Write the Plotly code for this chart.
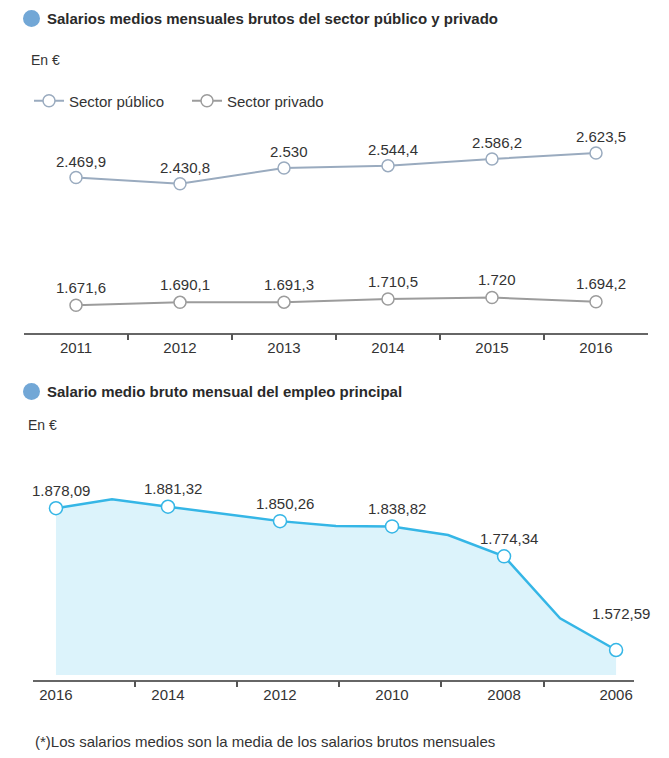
import plotly.graph_objects as go

# datos: salarios publico / privado
anios = [2011, 2012, 2013, 2014, 2015, 2016]
sector_publico = [2469.9, 2430.8, 2530, 2544.4, 2586.2, 2623.5]
sector_privado = [1671.6, 1690.1, 1691.3, 1710.5, 1720, 1694.2]

anios_empleo = [2016, 2015, 2014, 2013, 2012, 2011, 2010, 2009, 2008, 2007, 2006]
salario_empleo = [1878.09, 1897.3, 1881.32, 1865.6, 1850.26, 1840.0,
                  1838.82, 1820.3, 1774.34, 1640.9, 1572.59]
anios_marcados = [2016, 2014, 2012, 2010, 2008, 2006]
base_relleno = 1519

FONT = "Liberation Sans, Arial, sans-serif"
TXT = "#333333"
W, H = 669, 758


def fmt(v, dec):
    s = f"{v:,.{dec}f}".replace(",", "X").replace(".", ",").replace("X", ".")
    if s.endswith("," + "0" * dec):
        s = s[: -(dec + 1)]
    return s


def py(px):
    return 1 - px / H


def pxx(px):
    return px / W


fig = go.Figure()

# grafico 1
fig.add_trace(go.Scatter(
    x=anios, y=sector_publico, name="Sector público", mode="lines+markers",
    line=dict(color="#9aabbf", width=2),
    marker=dict(size=12, color="white", line=dict(color="#9aabbf", width=1.5)),
    xaxis="x", yaxis="y"))
fig.add_trace(go.Scatter(
    x=anios, y=sector_privado, name="Sector privado", mode="lines+markers",
    line=dict(color="#9c9c9c", width=2),
    marker=dict(size=12, color="white", line=dict(color="#9c9c9c", width=1.5)),
    xaxis="x", yaxis="y"))

# grafico 2
fig.add_trace(go.Scatter(
    x=[anios_empleo[0], anios_empleo[-1]], y=[base_relleno, base_relleno],
    mode="lines", line=dict(width=0, color="rgba(0,0,0,0)"),
    showlegend=False, hoverinfo="skip", xaxis="x2", yaxis="y2"))
fig.add_trace(go.Scatter(
    x=anios_empleo, y=salario_empleo, mode="lines", fill="tonexty",
    fillcolor="#dcf3fb", line=dict(color="#35b6e6", width=2.5),
    showlegend=False, xaxis="x2", yaxis="y2"))
valores_marcados = [dict(zip(anios_empleo, salario_empleo))[a] for a in anios_marcados]
fig.add_trace(go.Scatter(
    x=anios_marcados, y=valores_marcados, mode="markers",
    marker=dict(size=13, color="white", line=dict(color="#35b6e6", width=1.5)),
    showlegend=False, xaxis="x2", yaxis="y2"))

# ejes invisibles solo para las marcas de division
fig.add_trace(go.Scatter(x=[0], y=[None], showlegend=False, xaxis="x3", yaxis="y"))
fig.add_trace(go.Scatter(x=[0], y=[None], showlegend=False, xaxis="x4", yaxis="y2"))

# etiquetas de valores
anns = []
for a, v in zip(anios, sector_publico):
    anns.append(dict(x=a, y=v, xref="x", yref="y", text=fmt(v, 1), showarrow=False,
                     xshift=5, yshift=16))
for a, v in zip(anios, sector_privado):
    anns.append(dict(x=a, y=v, xref="x", yref="y", text=fmt(v, 1), showarrow=False,
                     xshift=5, yshift=18))
for a, v in zip(anios_marcados, valores_marcados):
    anns.append(dict(x=a, y=v, xref="x2", yref="y2", text=fmt(v, 2), showarrow=False,
                     xshift=5, yshift=37 if a == 2006 else 18))

# titulos y textos
anns += [
    dict(x=pxx(45), y=py(18), xref="paper", yref="paper", xanchor="left", yanchor="middle",
         text="<b>Salarios medios mensuales brutos del sector público y privado</b>",
         showarrow=False, font=dict(size=15, color="#2a2a2a")),
    dict(x=pxx(29), y=py(60), xref="paper", yref="paper", xanchor="left", yanchor="middle",
         text="En €", showarrow=False, font=dict(size=14)),
    dict(x=pxx(45), y=py(391), xref="paper", yref="paper", xanchor="left", yanchor="middle",
         text="<b>Salario medio bruto mensual del empleo principal</b>",
         showarrow=False, font=dict(size=15, color="#2a2a2a")),
    dict(x=pxx(26), y=py(425), xref="paper", yref="paper", xanchor="left", yanchor="middle",
         text="En €", showarrow=False, font=dict(size=14)),
    dict(x=pxx(33), y=py(741), xref="paper", yref="paper", xanchor="left", yanchor="middle",
         text="(*)Los salarios medios son la media de los salarios brutos mensuales",
         showarrow=False, font=dict(size=15)),
]

shapes = [
    dict(type="circle", xref="paper", yref="paper", fillcolor="#72a7d6", line=dict(width=0),
         x0=pxx(23), x1=pxx(40), y0=py(27), y1=py(10)),
    dict(type="circle", xref="paper", yref="paper", fillcolor="#72a7d6", line=dict(width=0),
         x0=pxx(23), x1=pxx(40), y0=py(400), y1=py(383)),
]

dom1 = [pxx(24), pxx(648)]
dom2 = [pxx(33), pxx(634)]

fig.update_layout(
    width=W, height=H, autosize=False,
    margin=dict(l=0, r=0, t=0, b=0),
    paper_bgcolor="white", plot_bgcolor="white",
    font=dict(family=FONT, size=15, color=TXT),
    annotations=anns, shapes=shapes,
    showlegend=True,
    legend=dict(orientation="h", x=pxx(29), y=py(101), xanchor="left", yanchor="middle",
                traceorder="normal",
                bgcolor="rgba(0,0,0,0)", font=dict(size=15, color=TXT),
                entrywidth=113, entrywidthmode="pixels"),
    xaxis=dict(domain=dom1, anchor="y", range=[2010.5, 2016.5], tickvals=anios,
               showline=True, linecolor="#666666", linewidth=2, ticks="",
               showgrid=False, zeroline=False, tickfont=dict(size=15, color=TXT)),
    yaxis=dict(domain=[py(332.5), py(140)], anchor="x", range=[1501.6, 2704.7],
               visible=False),
    xaxis3=dict(overlaying="x", anchor="y", range=[0, 6], tickvals=[1, 2, 3, 4, 5],
                ticks="outside", ticklen=6, tickwidth=1.5, tickcolor="#555555",
                showticklabels=False, showgrid=False, zeroline=False, showline=False),
    xaxis2=dict(domain=dom2, anchor="y2", range=[2016.41, 2005.68],
                tickvals=anios_marcados,
                showline=True, linecolor="#666666", linewidth=2, ticks="",
                showgrid=False, zeroline=False, tickfont=dict(size=15, color=TXT)),
    yaxis2=dict(domain=[py(680), py(470)], anchor="x2", range=[1508, 1960.4],
                visible=False),
    xaxis4=dict(overlaying="x2", anchor="y2", range=[0, 5.886], tickvals=[1, 2, 3, 4, 5],
                ticks="outside", ticklen=6, tickwidth=1.5, tickcolor="#555555",
                showticklabels=False, showgrid=False, zeroline=False, showline=False),
)

fig.write_html("out.html", config={"displayModeBar": False},
               post_script="document.body.style.margin='0';")
